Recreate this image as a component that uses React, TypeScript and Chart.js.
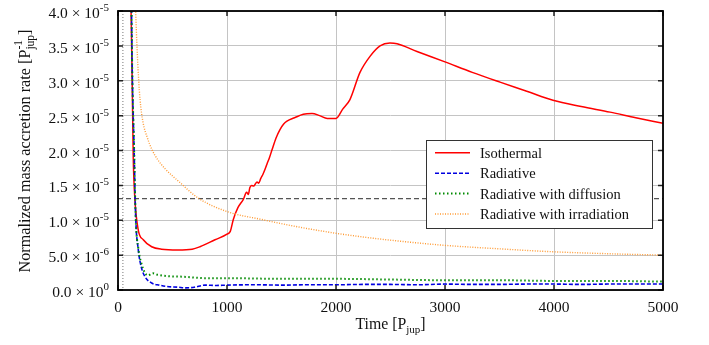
import React, { useEffect, useRef } from "react";
import { Chart, registerables } from "chart.js";

Chart.register(...registerables);

// ---- Data (rates in units of 1e-5 per P_jup) ----
const ISO_T = [110, 120, 130, 140, 155, 186, 232, 309, 400, 550, 680, 752, 890, 1000, 1030, 1058, 1100, 1150, 1180, 1195, 1210, 1226, 1245, 1260, 1275, 1290, 1310, 1330, 1349, 1370, 1390, 1413, 1450, 1486, 1520, 1550, 1620, 1700, 1780, 1850, 1920, 2000, 2060, 2128, 2220, 2312, 2404, 2495, 2560, 2743, 3000, 3250, 3505, 3750, 3991, 4250, 4514, 4750, 5000];
const ISO_V = [4.6, 4.0, 3.0, 1.9, 1.3, 0.86, 0.72, 0.62, 0.585, 0.575, 0.585, 0.62, 0.72, 0.80, 0.84, 1.01, 1.18, 1.30, 1.40, 1.37, 1.47, 1.50, 1.49, 1.52, 1.55, 1.53, 1.60, 1.66, 1.73, 1.82, 1.90, 2.01, 2.18, 2.30, 2.38, 2.42, 2.47, 2.52, 2.53, 2.50, 2.46, 2.46, 2.59, 2.73, 3.12, 3.35, 3.50, 3.54, 3.53, 3.42, 3.27, 3.12, 2.98, 2.85, 2.72, 2.63, 2.55, 2.47, 2.39];

const RAD_T = [110, 120, 130, 148, 162, 186, 215, 248, 309, 380, 450, 550, 620, 700, 800, 900, 1000, 1250, 1500, 1750, 2000, 2250, 2500, 2750, 3000, 3250, 3500, 3750, 4000, 4250, 4500, 4750, 5000];
const RAD_V = [4.8, 4.5, 3.2, 2.0, 1.05, 0.58, 0.32, 0.19, 0.10, 0.07, 0.05, 0.04, 0.03, 0.04, 0.07, 0.065, 0.07, 0.075, 0.07, 0.075, 0.075, 0.08, 0.08, 0.075, 0.085, 0.08, 0.08, 0.085, 0.085, 0.08, 0.085, 0.085, 0.085];

const DIF_T = [110, 120, 130, 148, 162, 186, 215, 250, 275, 320, 360, 450, 600, 800, 1000, 1500, 2000, 2500, 3000, 3500, 4000, 4500, 5000];
const DIF_V = [4.8, 4.5, 3.2, 2.0, 1.05, 0.60, 0.38, 0.24, 0.21, 0.24, 0.22, 0.20, 0.19, 0.17, 0.17, 0.16, 0.16, 0.15, 0.14, 0.14, 0.13, 0.13, 0.12];

const IRR_T = [150, 162, 174, 190, 202, 230, 270, 309, 364, 431, 569, 734, 1009, 1321, 1600, 1972, 2300, 2587, 3000, 3500, 3963, 4500, 5000];
const IRR_V = [4.6, 4.0, 3.5, 3.0, 2.73, 2.40, 2.18, 2.02, 1.87, 1.74, 1.54, 1.32, 1.12, 1.01, 0.92, 0.82, 0.75, 0.70, 0.64, 0.59, 0.55, 0.52, 0.50];

const UNIT = 1e-5;
const SERIES_NAMES = ["Isothermal", "Radiative", "Radiative with diffusion", "Radiative with irradiation"];
const SERIES_COLORS = ["#ff0000", "#0000e0", "#008a00", "#ff9a33"];
const SERIES_DASH: number[][] = [[], [4, 2], [1.5, 2.5], [1, 1.5]];
const SERIES_WIDTH = [1.5, 1.6, 2, 1.4];

const X_MIN = 0, X_MAX = 5000, X_STEP = 1000;
const Y_MIN = 0, Y_MAX = 4e-5, Y_STEP = 5e-6;
const REF_RATE = 1.31e-5;
const REF_TIME = 45;

const FONT = '"Liberation Serif", "Times New Roman", serif';

type Part = { t: string; size: number; dy: number } | { stack: { t: string; size: number; dy: number }[] };

function partW(ctx: CanvasRenderingContext2D, p: any): number {
  if (p.stack) return Math.max(...p.stack.map((q: any) => partW(ctx, q)));
  ctx.font = `${p.size}px ${FONT}`;
  return ctx.measureText(p.t).width;
}
function partsWidth(ctx: CanvasRenderingContext2D, parts: Part[]) {
  return parts.reduce((s, p) => s + partW(ctx, p), 0);
}
function drawParts(ctx: CanvasRenderingContext2D, x: number, y: number, parts: Part[]) {
  ctx.textAlign = "left";
  ctx.textBaseline = "alphabetic";
  for (const p of parts as any[]) {
    if (p.stack) {
      for (const q of p.stack) {
        ctx.font = `${q.size}px ${FONT}`;
        ctx.fillText(q.t, x, y + q.dy);
      }
    } else {
      ctx.font = `${p.size}px ${FONT}`;
      ctx.fillText(p.t, x, y + p.dy);
    }
    x += partW(ctx, p);
  }
}

function fmtTick(v: number): Part[] {
  if (Math.abs(v) < 1e-12) return [{ t: "0.0 × 10", size: 15.5, dy: 0 }, { t: "0", size: 11, dy: -7 }];
  const e = Math.floor(Math.log10(v) + 1e-9);
  const m = v / Math.pow(10, e);
  return [{ t: `${m.toFixed(1)} × 10`, size: 15.5, dy: 0 }, { t: `-${-e}`, size: 11, dy: -7 }];
}

const decorPlugin = {
  id: "decor",
  beforeDatasetsDraw(chart: any) {
    const { ctx, chartArea: a, scales } = chart;
    const x = scales.x, y = scales.y;
    ctx.save();
    ctx.beginPath();
    ctx.rect(a.left, a.top, a.right - a.left, a.bottom - a.top);
    ctx.clip();
    const yr = y.getPixelForValue(REF_RATE);
    ctx.strokeStyle = "#555";
    ctx.lineWidth = 1.1;
    ctx.setLineDash([5, 3]);
    ctx.beginPath();
    ctx.moveTo(a.left, yr);
    ctx.lineTo(a.right, yr);
    ctx.stroke();
    const xr = x.getPixelForValue(REF_TIME);
    ctx.strokeStyle = "#777";
    ctx.lineWidth = 1;
    ctx.setLineDash([1, 2]);
    ctx.beginPath();
    ctx.moveTo(xr, a.top);
    ctx.lineTo(xr, a.bottom);
    ctx.stroke();
    ctx.restore();
  },
  afterDraw(chart: any) {
    const { ctx, chartArea: a, scales } = chart;
    const x = scales.x, y = scales.y;
    ctx.save();
    ctx.setLineDash([]);
    ctx.lineWidth = 1.5;
    ctx.strokeStyle = "#222";
    for (const t of y.ticks) {
      const py = y.getPixelForValue(t.value);
      ctx.beginPath();
      ctx.moveTo(a.left, py); ctx.lineTo(a.left + 5, py);
      ctx.moveTo(a.right, py); ctx.lineTo(a.right - 5, py);
      ctx.stroke();
    }
    for (const t of x.ticks) {
      const px = x.getPixelForValue(t.value);
      ctx.beginPath();
      ctx.moveTo(px, a.bottom); ctx.lineTo(px, a.bottom - 5);
      ctx.moveTo(px, a.top); ctx.lineTo(px, a.top + 5);
      ctx.stroke();
    }
    ctx.strokeStyle = "#000";
    ctx.lineWidth = 1.8;
    ctx.strokeRect(a.left, a.top, a.right - a.left, a.bottom - a.top);
    ctx.fillStyle = "#111";
    for (const t of y.ticks) {
      const py = y.getPixelForValue(t.value);
      const parts = fmtTick(t.value);
      const w = partsWidth(ctx, parts);
      drawParts(ctx, a.left - 9 - w, py + 7, parts);
    }
    ctx.font = `15.5px ${FONT}`;
    ctx.textAlign = "center";
    ctx.textBaseline = "alphabetic";
    for (const t of x.ticks) {
      const px = x.getPixelForValue(t.value);
      ctx.fillText(String(t.value), px, a.bottom + 22);
    }
    const xt: Part[] = [
      { t: "Time [P", size: 15.8, dy: 0 },
      { t: "jup", size: 11, dy: 4 },
      { t: "]", size: 15.8, dy: 0 },
    ];
    const xw = partsWidth(ctx, xt);
    drawParts(ctx, (a.left + a.right) / 2 - xw / 2, a.bottom + 39, xt);
    const yt: Part[] = [
      { t: "Normalized mass accretion rate [P", size: 16.2, dy: 0 },
      { stack: [{ t: "-1", size: 11.5, dy: -7.5 }, { t: "jup", size: 11.5, dy: 4 }] },
      { t: "]", size: 16.2, dy: 0 },
    ];
    const yw = partsWidth(ctx, yt);
    ctx.save();
    ctx.translate(29.5, 151);
    ctx.rotate(-Math.PI / 2);
    drawParts(ctx, -yw / 2, 0, yt);
    ctx.restore();
    const lx = 426.5, ly = 140.5, lw = 226, lh = 88;
    ctx.fillStyle = "#fff";
    ctx.fillRect(lx, ly, lw, lh);
    ctx.strokeStyle = "#333";
    ctx.lineWidth = 1;
    ctx.strokeRect(lx, ly, lw, lh);
    const rows = [152.7, 173.3, 193.6, 214];
    SERIES_NAMES.forEach((name, i) => {
      const ry = rows[i];
      ctx.strokeStyle = SERIES_COLORS[i];
      ctx.lineWidth = SERIES_WIDTH[i];
      ctx.setLineDash(SERIES_DASH[i]);
      ctx.beginPath();
      ctx.moveTo(435, ry);
      ctx.lineTo(470, ry);
      ctx.stroke();
      ctx.setLineDash([]);
      ctx.fillStyle = "#111";
      ctx.font = `14.5px ${FONT}`;
      ctx.textAlign = "left";
      ctx.textBaseline = "alphabetic";
      ctx.fillText(name, 480, ry + 5);
    });
    ctx.restore();
  },
};

function toPoints(ts: number[], vs: number[]) {
  return ts.map((t, i) => ({ x: t, y: vs[i] * UNIT }));
}

export default function App() {
  const ref = useRef<HTMLCanvasElement | null>(null);
  useEffect(() => {
    if (!ref.current) return;
    const seriesT = [ISO_T, RAD_T, DIF_T, IRR_T];
    const seriesV = [ISO_V, RAD_V, DIF_V, IRR_V];
    const order = [3, 2, 1, 0];
    const chart = new Chart(ref.current, {
      type: "line",
      data: {
        datasets: order.map((i) => ({
          label: SERIES_NAMES[i],
          data: toPoints(seriesT[i], seriesV[i]),
          borderColor: SERIES_COLORS[i],
          backgroundColor: SERIES_COLORS[i],
          borderWidth: SERIES_WIDTH[i],
          borderDash: SERIES_DASH[i],
          pointRadius: 0,
          fill: false,
          cubicInterpolationMode: "monotone" as const,
        })),
      },
      options: {
        responsive: false,
        animation: false,
        devicePixelRatio: 1,
        layout: { padding: { left: 118, right: 46, top: 11, bottom: 55 } },
        plugins: { legend: { display: false }, tooltip: { enabled: false } },
        scales: {
          x: {
            type: "linear",
            min: X_MIN,
            max: X_MAX,
            ticks: { display: false, stepSize: X_STEP },
            grid: { color: "#c4c4c4", lineWidth: 1, drawTicks: false },
            border: { display: false },
          },
          y: {
            type: "linear",
            min: Y_MIN,
            max: Y_MAX,
            ticks: { display: false, stepSize: Y_STEP },
            grid: { color: "#c4c4c4", lineWidth: 1, drawTicks: false },
            border: { display: false },
          },
        },
      },
      plugins: [decorPlugin],
    });
    return () => chart.destroy();
  }, []);
  return (
    <div style={{ position: "absolute", left: 0, top: 0, width: 709, height: 345, background: "#fff" }}>
      <canvas ref={ref} width={709} height={345} style={{ display: "block" }} />
    </div>
  );
}
